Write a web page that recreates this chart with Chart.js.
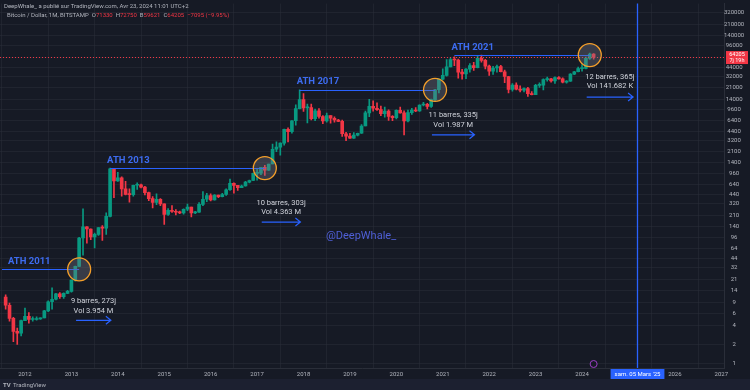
<!DOCTYPE html>
<html>
<head>
<meta charset="utf-8">
<script src="https://cdn.jsdelivr.net/npm/chart.js@4/dist/chart.umd.min.js"></script>
<style>
  html, body { margin: 0; padding: 0; background: #161a25; }
  canvas { display: block; }
</style>
</head>
<body>
<canvas id="btc" width="750" height="390"></canvas>
<script>
// monthly candles, BTC/USD Bitstamp
const months = [
  '2011-08','2011-09','2011-10','2011-11','2011-12',
  '2012-01','2012-02','2012-03','2012-04','2012-05','2012-06','2012-07','2012-08','2012-09','2012-10','2012-11','2012-12',
  '2013-01','2013-02','2013-03','2013-04','2013-05','2013-06','2013-07','2013-08','2013-09','2013-10','2013-11','2013-12',
  '2014-01','2014-02','2014-03','2014-04','2014-05','2014-06','2014-07','2014-08','2014-09','2014-10','2014-11','2014-12',
  '2015-01','2015-02','2015-03','2015-04','2015-05','2015-06','2015-07','2015-08','2015-09','2015-10','2015-11','2015-12',
  '2016-01','2016-02','2016-03','2016-04','2016-05','2016-06','2016-07','2016-08','2016-09','2016-10','2016-11','2016-12',
  '2017-01','2017-02','2017-03','2017-04','2017-05','2017-06','2017-07','2017-08','2017-09','2017-10','2017-11','2017-12',
  '2018-01','2018-02','2018-03','2018-04','2018-05','2018-06','2018-07','2018-08','2018-09','2018-10','2018-11','2018-12',
  '2019-01','2019-02','2019-03','2019-04','2019-05','2019-06','2019-07','2019-08','2019-09','2019-10','2019-11','2019-12',
  '2020-01','2020-02','2020-03','2020-04','2020-05','2020-06','2020-07','2020-08','2020-09','2020-10','2020-11','2020-12',
  '2021-01','2021-02','2021-03','2021-04','2021-05','2021-06','2021-07','2021-08','2021-09','2021-10','2021-11','2021-12',
  '2022-01','2022-02','2022-03','2022-04','2022-05','2022-06','2022-07','2022-08','2022-09','2022-10','2022-11','2022-12',
  '2023-01','2023-02','2023-03','2023-04','2023-05','2023-06','2023-07','2023-08','2023-09','2023-10','2023-11','2023-12',
  '2024-01','2024-02','2024-03','2024-04'
];

const opens = [
  11, 8.2, 5.1, 3.2, 3.0,
  4.7, 5.5, 4.9, 4.9, 5.0, 5.2, 6.7, 9.3, 10.2, 12.4, 11.2, 12.6,
  13.5, 20.4, 33.4, 93, 139, 129, 97, 106, 135, 133, 203, 1129,
  732, 815, 550, 450, 445, 625, 635, 585, 480, 387, 338, 375,
  320, 218, 254, 244, 236, 230, 263, 284, 230, 236, 314, 377,
  430, 368, 437, 416, 448, 531, 673, 624, 575, 608, 700, 742,
  963, 970, 1190, 1080, 1350, 2300, 2480, 2860, 4700, 4340, 6440, 9950,
  13860, 10220, 10320, 6930, 9240, 7490, 6390, 7730, 7030, 6610, 6300, 4020,
  3690, 3430, 3820, 4100, 5320, 8560, 10820, 10090, 9590, 8290, 9150, 7550,
  7190, 9350, 8540, 6410, 8630, 9450, 9140, 11340, 11650, 10780, 13800, 19700,
  28990, 33110, 45140, 58800, 57750, 37300, 35040, 41460, 47130, 43830, 61300, 57000,
  46210, 38480, 43190, 45540, 37710, 31800, 19930, 23300, 20050, 19420, 20490, 17160,
  16540, 23130, 23150, 28480, 29250, 27220, 30470, 29230, 25940, 26960, 34650, 37720,
  42280, 42580, 61180, 71300
];
const highs = [
  11.9, 8.9, 5.3, 3.6, 4.8,
  7.4, 6.3, 5.4, 5.4, 5.2, 6.8, 9.6, 15.4, 12.6, 13, 12.8, 14,
  20.6, 33.8, 95, 266, 140, 130, 111, 135, 146, 230, 1163, 1155,
  1000, 850, 720, 550, 630, 680, 650, 600, 490, 415, 460, 385,
  320, 270, 300, 260, 247, 268, 318, 285, 245, 335, 500, 468,
  460, 445, 440, 467, 550, 780, 680, 625, 630, 720, 755, 975,
  1150, 1200, 1290, 1350, 2760, 2990, 2900, 4750, 4980, 6470, 11400, 19666,
  17170, 11780, 11690, 9760, 9990, 7770, 8490, 7750, 7400, 6780, 6560, 4240,
  4070, 4200, 4130, 5620, 9080, 13880, 13200, 12330, 10920, 10500, 9510, 7750,
  9570, 10500, 9190, 9460, 10070, 10380, 11450, 12470, 12080, 14100, 19920, 29300,
  41950, 58350, 61800, 64900, 59600, 41300, 42320, 50500, 52920, 67000, 69000, 59100,
  47990, 45800, 48200, 47440, 40000, 31990, 24650, 25200, 22800, 21100, 21450, 18390,
  23950, 25250, 29200, 31000, 29820, 31430, 31800, 30200, 27480, 35200, 38400, 44700,
  48980, 63950, 73800, 72750
];
const lows = [
  7.1, 4.6, 2.2, 2.0, 2.7,
  4.7, 4.3, 4.6, 4.8, 4.9, 5.2, 6.5, 7.1, 9.9, 10.5, 10.5, 12.5,
  13.1, 19.6, 33, 50, 77, 88, 65, 102, 85, 106, 199, 400,
  720, 420, 440, 340, 420, 540, 570, 440, 360, 275, 310, 300,
  152, 210, 235, 215, 225, 220, 250, 200, 225, 235, 300, 345,
  355, 365, 400, 412, 435, 520, 470, 520, 575, 605, 680, 740,
  750, 920, 890, 1070, 1350, 2100, 1850, 2670, 2980, 4100, 5500, 9900,
  9000, 5970, 6600, 6430, 7040, 5770, 6100, 5880, 6100, 6200, 3650, 3130,
  3400, 3390, 3730, 4070, 5320, 7450, 9100, 9320, 7730, 7300, 6530, 6440,
  6860, 8450, 3850, 6150, 8100, 8920, 8970, 10960, 9880, 10370, 13200, 17600,
  28130, 32300, 45000, 47000, 30000, 28800, 29280, 37330, 39600, 43300, 53260, 42000,
  32950, 34300, 37160, 37600, 25400, 17600, 18780, 19600, 18150, 18200, 15480, 16300,
  16500, 21400, 19550, 26940, 25800, 24760, 28850, 25300, 24900, 26540, 34100, 37600,
  38500, 41880, 59000, 59600
];
const closes = [
  8.2, 5.1, 3.2, 3.0, 4.7,
  5.5, 4.9, 4.9, 5.0, 5.2, 6.7, 9.3, 10.2, 12.4, 11.2, 12.6, 13.5,
  20.4, 33.4, 93, 139, 129, 97, 106, 135, 133, 203, 1129, 732,
  815, 550, 450, 445, 625, 635, 585, 480, 387, 338, 375, 320,
  218, 254, 244, 236, 230, 263, 284, 230, 236, 314, 377, 430,
  368, 437, 416, 448, 531, 673, 624, 575, 608, 700, 742, 963,
  970, 1190, 1080, 1350, 2300, 2480, 2860, 4700, 4340, 6440, 9950, 13860,
  10220, 10320, 6930, 9240, 7490, 6390, 7730, 7030, 6610, 6300, 4020, 3690,
  3430, 3820, 4100, 5320, 8560, 10820, 10090, 9590, 8290, 9150, 7550, 7190,
  9350, 8540, 6410, 8630, 9450, 9140, 11340, 11650, 10780, 13800, 19700, 28990,
  33110, 45140, 58800, 57750, 37300, 35040, 41460, 47130, 43830, 61300, 57000, 46210,
  38480, 43190, 45540, 37710, 31800, 19930, 23300, 20050, 19420, 20490, 17160, 16540,
  23130, 23150, 28480, 29250, 27220, 30470, 29230, 25940, 26960, 34650, 37720, 42280,
  42580, 61180, 71300, 64205
];

// price scale (log) and time scale labels
const priceTicks = [1, 2, 4, 6, 9, 14, 21, 32, 44, 64, 96, 140, 210, 320, 440, 640, 960, 1400, 2100, 3200,
  4400, 6400, 9600, 14000, 21000, 32000, 44000, 64000, 96000, 140000, 210000, 320000];
const yearLabels = ['2012','2013','2014','2015','2016','2017','2018','2019','2020','2021','2022','2023','2024','2025','2026','2027'];

// annotations
const athLabels = ['ATH 2011', 'ATH 2013', 'ATH 2017', 'ATH 2021'];
const athValues = [30, 1163, 19666, 69000];
const athFrom = [null, '2013-11', '2017-12', '2021-04'];
const breakMonths = ['2013-03', '2017-03', '2020-11', '2024-03'];
const barCounts = [9, 10, 11, 12];
const cycleTexts = ['9 barres, 273j', '10 barres, 303j', '11 barres, 335j', '12 barres, 365j'];
const volTexts = ['Vol 3.954 M', 'Vol 4.363 M', 'Vol 1.987 M', 'Vol 141.682 K'];
const projectionDate = '2025-03-05';
const projectionLabel = "sam. 05 Mars '25";
const lastPrice = 64205;
const countdown = '7j 19h';

const UP = '#089981';
const DOWN = '#f23645';
const BLUE = '#2962ff';
const FONT = 'Roboto, "Liberation Sans", sans-serif';

function monthIndex(s) {
  const p = s.split('-').map(Number);
  let idx = (p[0] - 2012) * 12 + (p[1] - 1);
  if (p[2]) idx += (p[2] - 1) / 31;
  return idx;
}

const xs = months.map(monthIndex);
const colors = closes.map((c, i) => c >= opens[i] ? UP : DOWN);

// offsets of the cycle texts relative to the circle (px)
const textLayout = [
  { t: 32, v: 42, a: 51 },
  { t: 35, v: 44, a: 54 },
  { t: 25, v: 35, a: 45 },
  { t: 22, v: 31, a: 42 }
];

function arrow(ctx, x1, x2, y) {
  ctx.beginPath();
  ctx.moveTo(x1, y);
  ctx.lineTo(x2, y);
  ctx.moveTo(x2 - 5, y - 4);
  ctx.lineTo(x2, y);
  ctx.lineTo(x2 - 5, y + 4);
  ctx.stroke();
}

const overlay = {
  id: 'overlay',
  beforeDraw(chart) {
    const ctx = chart.ctx;
    ctx.save();
    ctx.fillStyle = '#161a25';
    ctx.fillRect(0, 0, chart.width, chart.height);
    ctx.restore();
  },
  afterDraw(chart) {
    const ctx = chart.ctx;
    const xS = chart.scales.x, yS = chart.scales.y;
    const area = chart.chartArea;
    ctx.save();

    // watermark
    ctx.font = '11px ' + FONT;
    ctx.fillStyle = '#4f5fd6';
    ctx.textAlign = 'center';
    ctx.textBaseline = 'middle';
    ctx.fillText('@DeepWhale_', 361, 236);

    // current price line
    const py = yS.getPixelForValue(lastPrice);
    ctx.strokeStyle = DOWN;
    ctx.lineWidth = 1;
    ctx.setLineDash([1, 2]);
    ctx.beginPath();
    ctx.moveTo(area.left, Math.round(py) + 0.5);
    ctx.lineTo(area.right, Math.round(py) + 0.5);
    ctx.stroke();
    ctx.setLineDash([]);

    // ATH lines, circles, cycle texts
    for (let i = 0; i < athLabels.length; i++) {
      const y = yS.getPixelForValue(athValues[i]);
      const bx = xS.getPixelForValue(monthIndex(breakMonths[i]));
      const x0 = athFrom[i] ? xS.getPixelForValue(monthIndex(athFrom[i])) : area.left + 2;
      ctx.strokeStyle = BLUE;
      ctx.lineWidth = 1;
      ctx.beginPath();
      ctx.moveTo(x0, Math.round(y) + 0.5);
      ctx.lineTo(bx, Math.round(y) + 0.5);
      ctx.stroke();

      ctx.font = 'bold 9.5px ' + FONT;
      ctx.fillStyle = '#3d6cf0';
      ctx.textAlign = 'left';
      ctx.textBaseline = 'bottom';
      const lx = athFrom[i] ? x0 - 3 : 8;
      ctx.fillText(athLabels[i], lx, y - 3);

      ctx.beginPath();
      ctx.arc(bx, y, 11.5, 0, Math.PI * 2);
      ctx.fillStyle = 'rgba(120,123,134,0.35)';
      ctx.fill();
      ctx.strokeStyle = '#f59f2a';
      ctx.lineWidth = 1.3;
      ctx.stroke();

      const ax1 = xS.getPixelForValue(monthIndex(breakMonths[i]) - 0.8);
      const ax2 = xS.getPixelForValue(monthIndex(breakMonths[i]) - 0.8 + barCounts[i]);
      const cx = (ax1 + ax2) / 2;
      const L = textLayout[i];
      ctx.font = '7.5px ' + FONT;
      ctx.fillStyle = '#d1d4dc';
      ctx.textAlign = 'center';
      ctx.textBaseline = 'middle';
      ctx.fillText(cycleTexts[i], cx, y + L.t);
      ctx.fillText(volTexts[i], cx, y + L.v);
      ctx.strokeStyle = BLUE;
      ctx.lineWidth = 1.2;
      arrow(ctx, ax1, ax2, y + L.a);
    }

    // projection vertical line
    const vx = Math.round(xS.getPixelForValue(monthIndex(projectionDate))) + 0.5;
    ctx.strokeStyle = '#2962ff';
    ctx.lineWidth = 1.3;
    ctx.beginPath();
    ctx.moveTo(vx, area.top);
    ctx.lineTo(vx, area.bottom);
    ctx.stroke();

    // event marker
    const ex = xS.getPixelForValue(monthIndex('2024-04'));
    ctx.beginPath();
    ctx.arc(ex, area.bottom - 4, 3.5, 0, Math.PI * 2);
    ctx.fillStyle = '#161a25';
    ctx.fill();
    ctx.strokeStyle = '#9c3fc4';
    ctx.lineWidth = 1;
    ctx.stroke();

    // bottom strip
    ctx.fillStyle = '#1c2030';
    ctx.fillRect(0, 379, chart.width, chart.height - 379);
    ctx.font = 'bold 6px ' + FONT;
    ctx.fillStyle = '#b2b5be';
    ctx.textAlign = 'left';
    ctx.textBaseline = 'middle';
    ctx.fillText('TV', 3, 385);
    ctx.font = '6px ' + FONT;
    ctx.fillText('TradingView', 13, 385);

    // projection date label on time axis
    ctx.font = '6px ' + FONT;
    const tw = ctx.measureText(projectionLabel).width + 8;
    ctx.fillStyle = BLUE;
    ctx.fillRect(vx - tw / 2, area.bottom + 1, tw, 10);
    ctx.fillStyle = '#ffffff';
    ctx.textAlign = 'center';
    ctx.fillText(projectionLabel, vx, area.bottom + 6.5);

    // price label
    ctx.fillStyle = DOWN;
    ctx.fillRect(area.right + 2, py - 6, 22, 13);
    ctx.fillStyle = '#ffffff';
    ctx.font = '5.5px ' + FONT;
    ctx.fillText(String(lastPrice), area.right + 13, py - 2.5);
    ctx.fillText(countdown, area.right + 13, py + 3.5);

    // header
    ctx.textAlign = 'left';
    ctx.font = '6px ' + FONT;
    ctx.fillStyle = '#b2b5be';
    ctx.fillText('DeepWhale_ a publié sur TradingView.com, Avr 23, 2024 11:01 UTC+2', 4, 6);
    const parts = [
      ['Bitcoin / Dollar, 1M, BITSTAMP  ', '#b2b5be'],
      ['O', '#b2b5be'], ['71330  ', DOWN],
      ['H', '#b2b5be'], ['72750  ', DOWN],
      ['B', '#b2b5be'], ['59621  ', DOWN],
      ['C', '#b2b5be'], ['64205  ', DOWN],
      ['−7095 (−9.95%)', DOWN]
    ];
    let hx = 7;
    for (const [t, c] of parts) {
      ctx.fillStyle = c;
      ctx.fillText(t, hx, 15);
      hx += ctx.measureText(t).width;
    }
    ctx.restore();
  }
};

const ctx = document.getElementById('btc').getContext('2d');
new Chart(ctx, {
  type: 'bar',
  data: {
    datasets: [
      {
        label: 'wicks',
        data: xs.map((x, i) => ({ x: x, y: [lows[i], highs[i]] })),
        backgroundColor: colors,
        barThickness: 1,
        grouped: false,
        order: 2
      },
      {
        label: 'bodies',
        data: xs.map((x, i) => ({ x: x, y: [opens[i], closes[i]] })),
        backgroundColor: colors,
        barThickness: 3,
        minBarLength: 1,
        grouped: false,
        order: 1
      }
    ]
  },
  options: {
    responsive: false,
    animation: false,
    devicePixelRatio: 1,
    layout: { padding: 0 },
    plugins: { legend: { display: false }, tooltip: { enabled: false } },
    scales: {
      x: {
        type: 'linear',
        offset: false,
        min: -6.46,
        max: 180.7,
        afterBuildTicks: (scale) => {
          scale.ticks = yearLabels.map((y, i) => ({ value: i * 12 }));
        },
        afterFit: (scale) => { scale.height = 22; },
        ticks: {
          autoSkip: false,
          maxRotation: 0,
          padding: 3,
          color: '#b2b5be',
          font: { size: 6, family: FONT },
          callback: (v) => {
            const lbl = yearLabels[Math.round(v / 12)];
            return lbl === '2025' ? '' : lbl;
          }
        },
        grid: { color: 'rgba(42,46,57,0.55)', tickLength: 0 },
        border: { color: '#2a2e39' }
      },
      y: {
        type: 'logarithmic',
        position: 'right',
        min: 0.85,
        max: 442600,
        afterBuildTicks: (scale) => {
          scale.ticks = priceTicks.map(v => ({ value: v }));
        },
        afterFit: (scale) => { scale.width = 26; },
        ticks: {
          autoSkip: false,
          crossAlign: 'center',
          padding: 0,
          color: '#b2b5be',
          font: { size: 6, family: FONT },
          callback: (v) => String(v)
        },
        grid: { color: 'rgba(42,46,57,0.55)', tickLength: 0 },
        border: { color: '#2a2e39' }
      }
    }
  },
  plugins: [overlay]
});
</script>
</body>
</html>
